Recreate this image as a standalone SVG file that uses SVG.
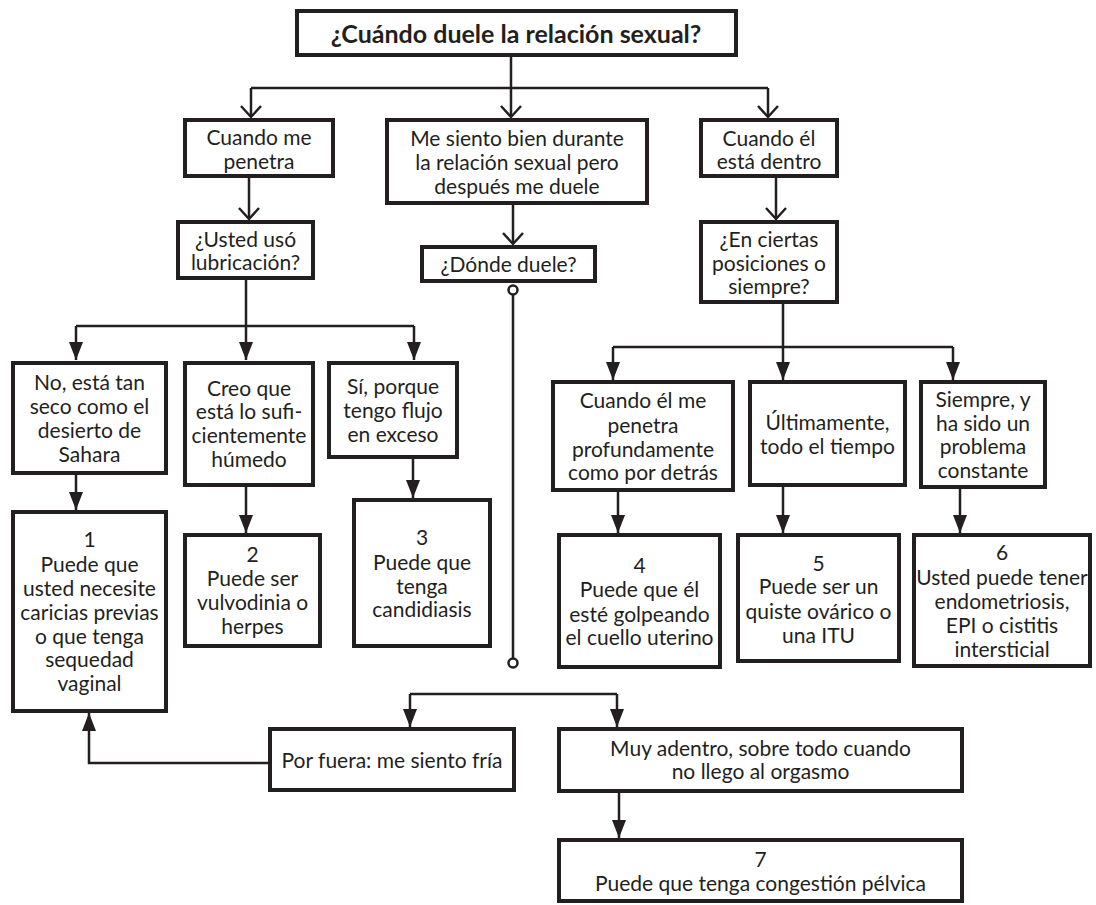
<svg xmlns="http://www.w3.org/2000/svg" width="1096" height="905" viewBox="0 0 1096 905">
<style>
  .box { fill: #ffffff; stroke: #231f20; stroke-width: 4; }
  .t { font-family: Lato, "Liberation Sans", sans-serif; font-size: 21px; fill: #231f20; text-anchor: middle; }
  .title { font-family: Lato, "Liberation Sans", sans-serif; font-size: 25px; font-weight: bold; fill: #231f20; text-anchor: middle; }
  .c { fill: none; stroke: #231f20; stroke-width: 2.5; }
  .open { marker-end: url(#vopen); }
  .fill { marker-end: url(#tri); }
</style>
<defs>
  <marker id="vopen" markerUnits="userSpaceOnUse" markerWidth="16" markerHeight="24" refX="12" refY="12" orient="auto" viewBox="0 0 16 24">
    <path d="M1,2 L12,12 L1,22" fill="none" stroke="#231f20" stroke-width="2.5"/>
  </marker>
  <marker id="tri" markerUnits="userSpaceOnUse" markerWidth="18" markerHeight="14" refX="18" refY="7" orient="auto" viewBox="0 0 18 14">
    <path d="M0,0 L18,7 L0,14 z" fill="#231f20"/>
  </marker>
</defs>
<rect width="1096" height="905" fill="#ffffff"/>

<g id="connectors">
  <path class="c" d="M511,57 V88"/>
  <path class="c" d="M251,88 H768"/>
  <path class="c open" d="M251,88 V117"/>
  <path class="c open" d="M511,88 V117"/>
  <path class="c open" d="M768,88 V117"/>
  <path class="c open" d="M249,178 V219"/>
  <path class="c open" d="M513,205 V244"/>
  <path class="c open" d="M776,178 V219"/>
  <path class="c" d="M246,280 V326 M76,326 H414"/>
  <path class="c fill" d="M76,326 V360"/>
  <path class="c fill" d="M246,326 V360"/>
  <path class="c fill" d="M414,326 V360"/>
  <path class="c fill" d="M76,475 V510"/>
  <path class="c fill" d="M246,487 V533"/>
  <path class="c fill" d="M413,459 V498"/>
  <path class="c" d="M513,294.5 V658.5"/>
  <circle class="c" cx="513" cy="290" r="4.5"/>
  <circle class="c" cx="513" cy="663" r="4.5"/>
  <path class="c" d="M783,304 V347 M613,347 H953"/>
  <path class="c fill" d="M613,347 V380"/>
  <path class="c fill" d="M783,347 V380"/>
  <path class="c fill" d="M953,347 V380"/>
  <path class="c fill" d="M618,492 V533"/>
  <path class="c fill" d="M783,487 V533"/>
  <path class="c fill" d="M960,489 V533"/>
  <path class="c" d="M410,694 H617"/>
  <path class="c fill" d="M410,694 V727"/>
  <path class="c fill" d="M617,694 V727"/>
  <path class="c fill" d="M619,793 V838"/>
  <path class="c fill" d="M268,763 H89 V713"/>
</g>

<g id="title">
  <rect class="box" x="297" y="11" width="439" height="44"/>
  <text class="title" x="516" y="43">¿Cuándo duele la relación sexual?</text>
</g>

<g id="n-penetra">
  <rect class="box" x="185" y="120" width="148" height="56"/>
  <text class="t" x="259" y="145">Cuando me</text>
  <text class="t" x="259" y="169">penetra</text>
</g>

<g id="n-despues">
  <rect class="box" x="387" y="120" width="260" height="83"/>
  <text class="t" x="517" y="146">Me siento bien durante</text>
  <text class="t" x="517" y="170">la relación sexual pero</text>
  <text class="t" x="517" y="194">después me duele</text>
</g>

<g id="n-dentro">
  <rect class="box" x="701" y="120" width="136" height="56"/>
  <text class="t" x="769" y="146">Cuando él</text>
  <text class="t" x="769" y="169">está dentro</text>
</g>

<g id="n-lubricacion">
  <rect class="box" x="178" y="222" width="135" height="56"/>
  <text class="t" x="245.5" y="247">¿Usted usó</text>
  <text class="t" x="245.5" y="270">lubricación?</text>
</g>

<g id="n-donde">
  <rect class="box" x="422" y="247" width="173" height="34"/>
  <text class="t" x="508.5" y="272">¿Dónde duele?</text>
</g>

<g id="n-posiciones">
  <rect class="box" x="701" y="222" width="136" height="80"/>
  <text class="t" x="769" y="247">¿En ciertas</text>
  <text class="t" x="769" y="271">posiciones o</text>
  <text class="t" x="769" y="294">siempre?</text>
</g>

<g id="n-seco">
  <rect class="box" x="13" y="363" width="153" height="110"/>
  <text class="t" x="89.5" y="390">No, está tan</text>
  <text class="t" x="89.5" y="414">seco como el</text>
  <text class="t" x="89.5" y="438">desierto de</text>
  <text class="t" x="89.5" y="462">Sahara</text>
</g>

<g id="n-humedo">
  <rect class="box" x="185" y="363" width="128" height="122"/>
  <text class="t" x="249" y="396">Creo que</text>
  <text class="t" x="249" y="419">está lo sufi-</text>
  <text class="t" x="249" y="443">cientemente</text>
  <text class="t" x="249" y="467">húmedo</text>
</g>

<g id="n-flujo">
  <rect class="box" x="329" y="363" width="128" height="94"/>
  <text class="t" x="393" y="394">Sí, porque</text>
  <text class="t" x="393" y="418">tengo flujo</text>
  <text class="t" x="393" y="442">en exceso</text>
</g>

<g id="r1">
  <rect class="box" x="13" y="512" width="153" height="199"/>
  <text class="t" x="89.5" y="547">1</text>
  <text class="t" x="89.5" y="572">Puede que</text>
  <text class="t" x="89.5" y="596">usted necesite</text>
  <text class="t" x="89.5" y="620">caricias previas</text>
  <text class="t" x="89.5" y="644">o que tenga</text>
  <text class="t" x="89.5" y="667">sequedad</text>
  <text class="t" x="89.5" y="691">vaginal</text>
</g>

<g id="r2">
  <rect class="box" x="185" y="535" width="135" height="111"/>
  <text class="t" x="252.5" y="562">2</text>
  <text class="t" x="252.5" y="586">Puede ser</text>
  <text class="t" x="252.5" y="610">vulvodinia o</text>
  <text class="t" x="252.5" y="634">herpes</text>
</g>

<g id="r3">
  <rect class="box" x="354" y="500" width="136" height="146"/>
  <text class="t" x="422" y="545">3</text>
  <text class="t" x="422" y="570">Puede que</text>
  <text class="t" x="422" y="594">tenga</text>
  <text class="t" x="422" y="617">candidiasis</text>
</g>

<g id="n-profundo">
  <rect class="box" x="553" y="382" width="180" height="108"/>
  <text class="t" x="643" y="408">Cuando él me</text>
  <text class="t" x="643" y="433">penetra</text>
  <text class="t" x="643" y="457">profundamente</text>
  <text class="t" x="643" y="480">como por detrás</text>
</g>

<g id="n-ultimamente">
  <rect class="box" x="750" y="382" width="155" height="103"/>
  <text class="t" x="827.5" y="430">Últimamente,</text>
  <text class="t" x="827.5" y="454">todo el tiempo</text>
</g>

<g id="n-siempre">
  <rect class="box" x="921" y="382" width="124" height="105"/>
  <text class="t" x="983" y="407">Siempre, y</text>
  <text class="t" x="983" y="431">ha sido un</text>
  <text class="t" x="983" y="454">problema</text>
  <text class="t" x="983" y="478">constante</text>
</g>

<g id="r4">
  <rect class="box" x="559" y="535" width="161" height="132"/>
  <text class="t" x="639.5" y="573">4</text>
  <text class="t" x="639.5" y="597">Puede que él</text>
  <text class="t" x="639.5" y="622">esté golpeando</text>
  <text class="t" x="639.5" y="645">el cuello uterino</text>
</g>

<g id="r5">
  <rect class="box" x="738" y="535" width="161" height="126"/>
  <text class="t" x="818.5" y="571">5</text>
  <text class="t" x="818.5" y="594">Puede ser un</text>
  <text class="t" x="818.5" y="619">quiste ovárico o</text>
  <text class="t" x="818.5" y="643">una ITU</text>
</g>

<g id="r6">
  <rect class="box" x="914" y="535" width="176" height="131"/>
  <text class="t" x="1002" y="560">6</text>
  <text class="t" x="1002" y="585">Usted puede tener</text>
  <text class="t" x="1002" y="609">endometriosis,</text>
  <text class="t" x="1002" y="633">EPI o cistitis</text>
  <text class="t" x="1002" y="657">intersticial</text>
</g>

<g id="n-fuera">
  <rect class="box" x="270" y="729" width="244" height="61"/>
  <text class="t" x="392" y="768">Por fuera: me siento fría</text>
</g>

<g id="n-adentro">
  <rect class="box" x="559" y="729" width="403" height="62"/>
  <text class="t" x="760.5" y="756">Muy adentro, sobre todo cuando</text>
  <text class="t" x="760.5" y="779">no llego al orgasmo</text>
</g>

<g id="r7">
  <rect class="box" x="559" y="840" width="403" height="61"/>
  <text class="t" x="760.5" y="867">7</text>
  <text class="t" x="760.5" y="891">Puede que tenga congestión pélvica</text>
</g>
</svg>
